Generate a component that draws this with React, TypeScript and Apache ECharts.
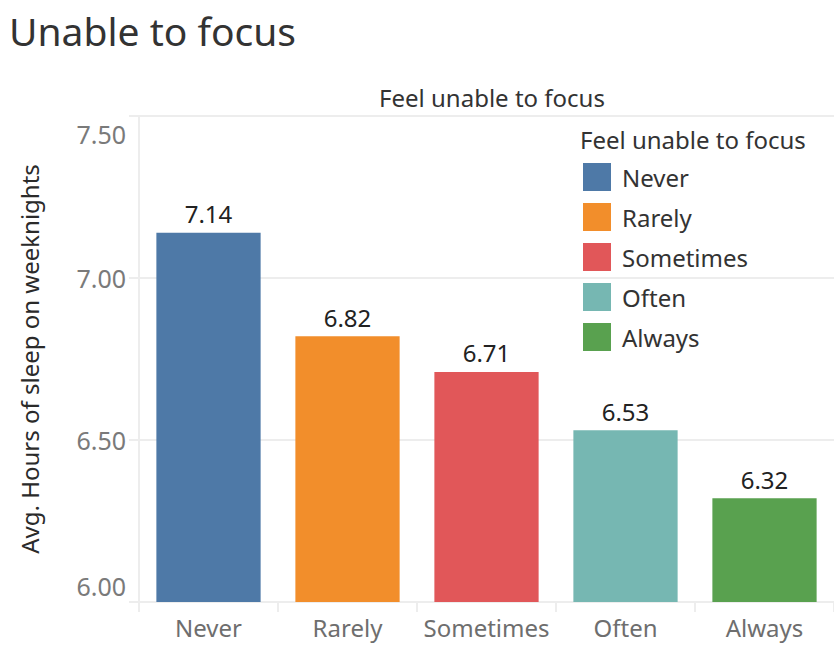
import React, { useEffect, useRef } from 'react';
import * as echarts from 'echarts';

const categories = ['Never', 'Rarely', 'Sometimes', 'Often', 'Always'];
const avgHours = [7.14, 6.82, 6.71, 6.53, 6.32];
const colors = ['#4E79A7', '#F28E2B', '#E15759', '#76B7B2', '#59A14F'];
const yTicks = [6, 6.5, 7, 7.5];

const FONT = '"Noto Sans", sans-serif';
const GRID = '#ededed';

const App: React.FC = () => {
  const chartRef = useRef<HTMLDivElement>(null);

  useEffect(() => {
    if (!chartRef.current) return;
    document.body.style.margin = '0';
    const chart = echarts.init(chartRef.current, undefined, { renderer: 'svg' });

    const series = categories.map((name, i) => ({
      name,
      type: 'bar' as const,
      barGap: '-100%',
      barCategoryGap: '25%',
      itemStyle: { color: colors[i] },
      data: categories.map((_, j) => (j === i ? avgHours[i] : '-')),
      label: {
        show: true,
        position: 'top' as const,
        distance: 7,
        fontFamily: FONT,
        fontSize: 24,
        color: '#222',
        formatter: (p: any) => Number(p.value).toFixed(2)
      }
    }));

    const option: echarts.EChartsOption = {
      animation: false,
      textStyle: { fontFamily: FONT },
      title: [
        {
          text: 'Unable to focus',
          left: 4,
          top: 6,
          textStyle: { fontSize: 39, fontWeight: 'normal', color: '#333', fontFamily: FONT }
        },
        {
          text: 'Feel unable to focus',
          left: 487,
          top: 80,
          textAlign: 'center',
          textStyle: { fontSize: 24, fontWeight: 'normal', color: '#333', fontFamily: FONT }
        },
        {
          text: 'Feel unable to focus',
          left: 575,
          top: 122,
          textStyle: { fontSize: 24, fontWeight: 'normal', color: '#333', fontFamily: FONT }
        }
      ],
      legend: {
        orient: 'vertical',
        left: 583,
        top: 163,
        padding: 0,
        itemWidth: 28,
        itemHeight: 28,
        itemGap: 12,
        icon: 'rect',
        data: categories,
        textStyle: { fontSize: 24, color: '#333', fontFamily: FONT, padding: [0, 0, 2, 6] }
      },
      grid: { left: 139, top: 116, right: 0, bottom: 47, containLabel: false },
      xAxis: {
        type: 'category',
        data: categories,
        axisLine: { show: true, lineStyle: { color: GRID, width: 2 } },
        axisTick: { show: true, length: 10, lineStyle: { color: GRID, width: 2 } },
        axisLabel: { interval: 0, fontSize: 24, color: '#6e6e6e', margin: 13, fontFamily: FONT }
      },
      yAxis: {
        type: 'value',
        min: yTicks[0],
        max: yTicks[yTicks.length - 1],
        interval: 0.5,
        name: 'Avg. Hours of sleep on weeknights',
        nameLocation: 'middle',
        nameGap: 98,
        nameTextStyle: { fontSize: 24, color: '#2a2a2a', fontFamily: FONT },
        axisLine: { show: true, lineStyle: { color: GRID, width: 2 } },
        axisTick: { show: true, length: 10, lineStyle: { color: GRID, width: 2 } },
        splitLine: { show: true, lineStyle: { color: GRID, width: 2 } },
        axisLabel: {
          margin: 13,
          formatter: (v: number) => {
            const t = v.toFixed(2);
            if (v === yTicks[0]) return `{lo|${t}}`;
            if (v === yTicks[yTicks.length - 1]) return `{hi|${t}}`;
            return `{mid|${t}}`;
          },
          rich: {
            lo: { fontSize: 25, color: '#7a7a7a', fontFamily: FONT, padding: [0, 0, 32, 0] },
            hi: { fontSize: 25, color: '#7a7a7a', fontFamily: FONT, padding: [36, 0, 0, 0] },
            mid: { fontSize: 25, color: '#7a7a7a', fontFamily: FONT }
          }
        }
      },
      series
    };

    chart.setOption(option);
    return () => chart.dispose();
  }, []);

  return <div ref={chartRef} style={{ width: 834, height: 649 }} />;
};

export default App;
